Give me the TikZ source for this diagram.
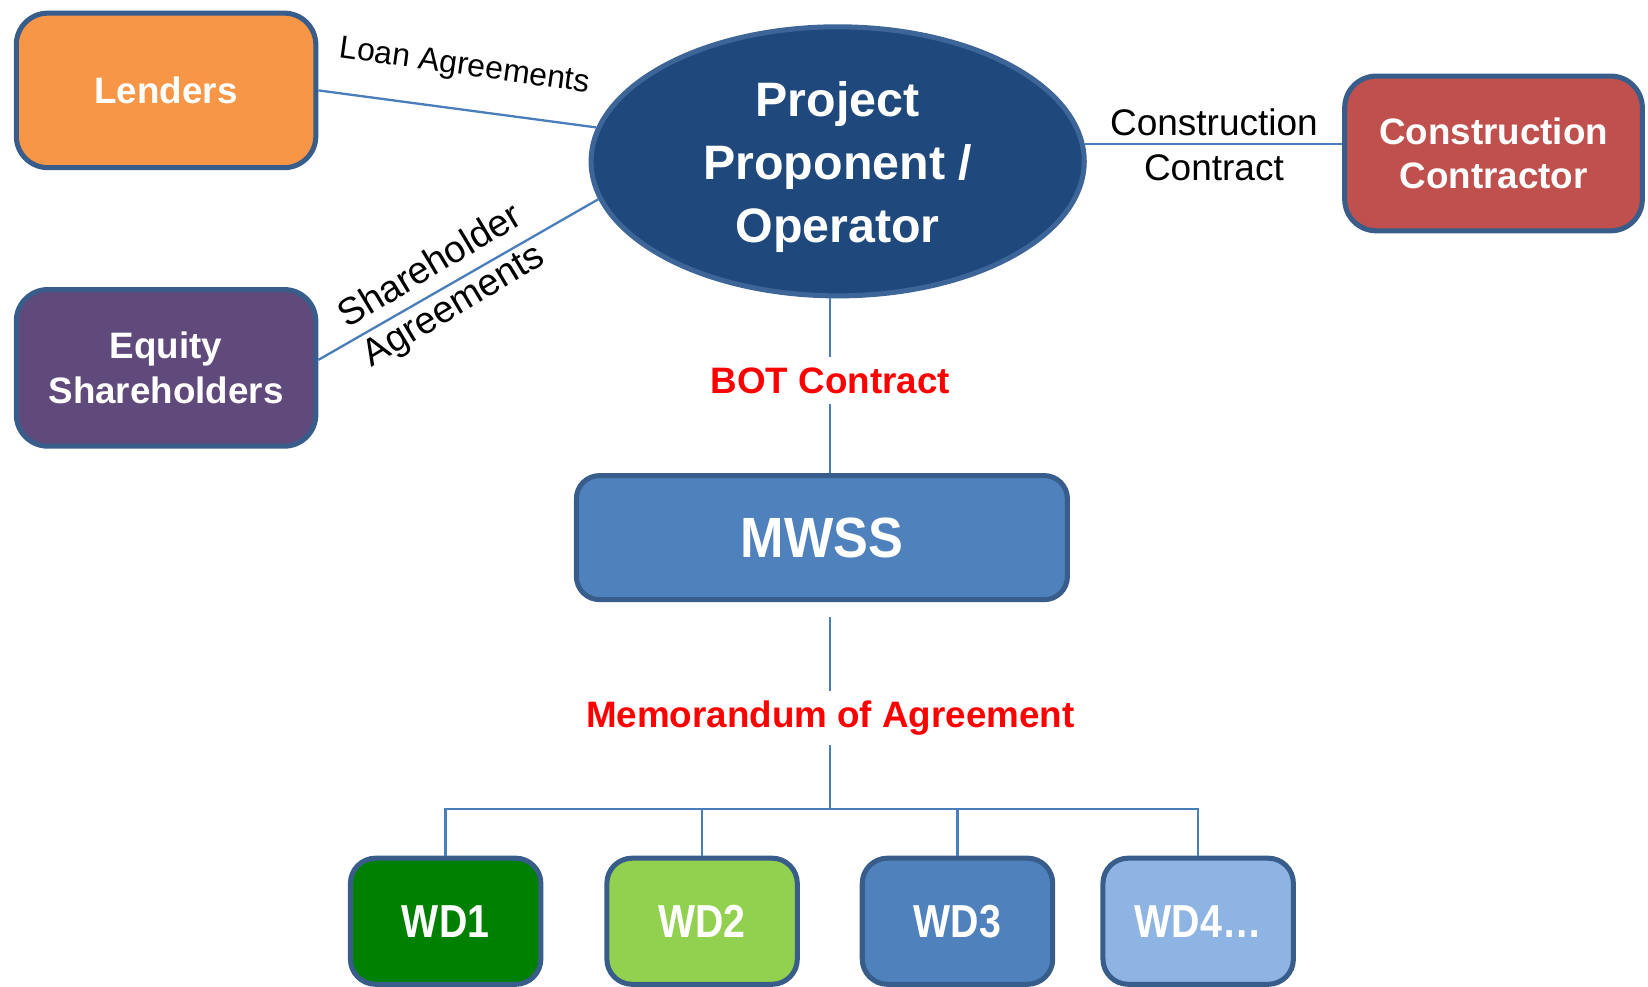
\documentclass[tikz,border=0pt]{standalone}
\usepackage{fontspec}
\usepackage{graphicx}
\setmainfont{Liberation Sans}
\usetikzlibrary{shapes.geometric}
\definecolor{bordc}{HTML}{385D8A}
\definecolor{ellbord}{HTML}{3D6597}
\definecolor{linec}{HTML}{4A7EBB}
\definecolor{lendc}{HTML}{F79646}
\definecolor{equc}{HTML}{604A7B}
\definecolor{ccc}{HTML}{C0504D}
\definecolor{ppc}{HTML}{1F497D}
\definecolor{mwssc}{HTML}{4F81BD}
\definecolor{wdonec}{HTML}{008000}
\definecolor{wdtwoc}{HTML}{92D050}
\definecolor{wdthreec}{HTML}{4F81BD}
\definecolor{wdfourc}{HTML}{8EB4E3}
\definecolor{redc}{HTML}{FF0000}
\tikzset{
  orgbox/.style={draw=bordc, line width=2.4pt, rounded corners=15pt, text=white,
    align=center, inner sep=0pt, font=\fontsize{17.5}{21}\selectfont\bfseries},
  wdbox/.style={draw=bordc, line width=2.4pt, rounded corners=12pt, text=white,
    inner sep=0pt, minimum width=90.6pt, minimum height=60pt,
    font=\fontsize{22}{26}\selectfont\bfseries},
  conn/.style={draw=linec, line width=1.1pt},
  lbl/.style={align=center, inner sep=0pt, text=black},
  redlbl/.style={text=redc, inner xsep=2pt, inner ysep=5pt, font=\fontsize{17.5}{21}\selectfont\bfseries}
}
\begin{document}
\begin{tikzpicture}[x=0.5pt,y=-0.5pt]
\useasboundingbox (0,0) rectangle (1568,939);

% main nodes
\node[orgbox, fill=lendc, minimum width=142.5pt, minimum height=73.5pt] (L) at (158,86) {Lenders};
\node[orgbox, fill=equc, minimum width=142.5pt, minimum height=74.5pt] (E) at (158,350) {Equity\\Shareholders};
\node[ellipse, draw=ellbord, line width=2.4pt, fill=ppc, inner sep=0pt,
      minimum width=234.6pt, minimum height=128pt] (PP) at (797,153.5) {};
\node[text=white, align=center, inner sep=0pt,
      font=\fontsize{23}{30}\selectfont\bfseries] (PPT) at (797,159) {Project\\Proponent /\\Operator};
\node[orgbox, fill=ccc, minimum width=141.6pt, minimum height=73.6pt] (CC) at (1421,146) {Construction\\Contractor};
\node[orgbox, rounded corners=11pt, fill=mwssc, minimum width=233.6pt, minimum height=59pt,
      font=\fontsize{27}{30}\selectfont\bfseries] (M) at (782,511.5) {\scalebox{0.92}[1]{MWSS}};

\node[wdbox, fill=wdonec] (W1) at (424,876.5) {\scalebox{0.85}[1]{WD1}};
\node[wdbox, fill=wdtwoc] (W2) at (668,876.5) {\scalebox{0.85}[1]{WD2}};
\node[wdbox, fill=wdthreec] (W3) at (911,876.5) {\scalebox{0.85}[1]{WD3}};
\node[wdbox, fill=wdfourc] (W4) at (1140,876.5) {\scalebox{0.85}[1]{WD4\ldots}};

% labels
\node[redlbl] (BOT) at (790,362) {BOT Contract};
\node[redlbl, inner ysep=4.5pt] (MOA) at (790,683) {Memorandum of Agreement};
\coordinate (bus) at (790,770);
\node[lbl, rotate=-8, font=\fontsize{15.2}{18}\selectfont] (LA) at (442,64) {Loan Agreements};
\node[lbl, rotate=31, font=\fontsize{18}{21.7}\selectfont] (SA) at (421,273) {Shareholder\\Agreements};
\node[lbl, font=\fontsize{17.6}{21.5}\selectfont] (CCL) at (1155,138) {Construction\\Contract};

% connectors
\draw[conn] (L.east) -- (PP.172);
\draw[conn] (E.3) -- (PP.189);
\draw[conn] (PP.4.5) -- (PP.4.5 -| CC.west);
\draw[conn] (PP.south -| BOT) -- (BOT.north);
\draw[conn] (BOT.south) -- (M.north -| BOT);
\draw[conn, shorten <=7pt] (M.south -| MOA) -- (MOA.north);
\draw[conn] (MOA.south) -- (bus);
\draw[conn] (bus) -| (W1);
\draw[conn] (bus) -| (W2);
\draw[conn] (bus) -| (W3);
\draw[conn] (bus) -| (W4);
\end{tikzpicture}
\end{document}
